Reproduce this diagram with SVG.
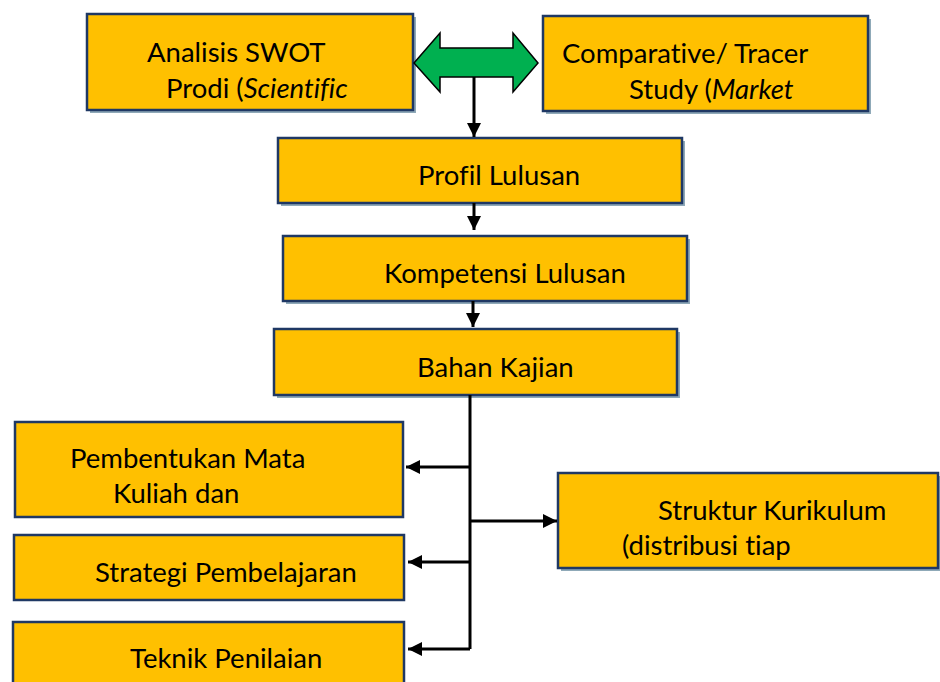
<svg xmlns="http://www.w3.org/2000/svg" width="940" height="682" viewBox="0 0 940 682">
<style>
.sh{fill:#8fa9b8}
.bx{fill:#FFC000;stroke:#1F3864;stroke-width:2.5}
.t{font-family:Lato,"Open Sans","Liberation Sans",sans-serif;font-size:27.5px;fill:#000;font-variant-ligatures:none}
.c{fill:none;stroke:#000;stroke-width:3}
</style>
<defs>
<marker id="ah" markerUnits="userSpaceOnUse" markerWidth="14" markerHeight="14" viewBox="0 0 14 14" refX="14" refY="7" orient="auto">
<path d="M0,0 L14,7 L0,14 Z" fill="#000"/>
</marker>
</defs>
<rect width="940" height="682" fill="#fff"/>

<g id="swot">
<rect class="sh" x="90" y="17" width="326" height="96"/>
<rect class="bx" x="87" y="14" width="326" height="96"/>
<text class="t" x="147" y="62">Analisis SWOT</text>
<text class="t" x="166" y="98">Prodi (<tspan font-style="italic">Scientific</tspan></text>
</g>

<g id="tracer">
<rect class="sh" x="546" y="19" width="325" height="95"/>
<rect class="bx" x="543" y="16" width="325" height="95"/>
<text class="t" x="562" y="63">Comparative/ Tracer</text>
<text class="t" x="629" y="99">Study (<tspan font-style="italic">Market</tspan></text>
</g>

<g id="profil">
<rect class="sh" x="281" y="141" width="404" height="65"/>
<rect class="bx" x="278" y="138" width="404" height="65"/>
<text class="t" x="418" y="185">Profil Lulusan</text>
</g>

<g id="kompetensi">
<rect class="sh" x="286" y="239" width="404" height="65" fill="#FFC000"/>
<rect class="bx" x="283" y="236" width="404" height="65"/>
<text class="t" x="384" y="283">Kompetensi Lulusan</text>
</g>

<g id="bahan">
<rect class="sh" x="277" y="332" width="403" height="66"/>
<rect class="bx" x="274" y="329" width="403" height="66"/>
<text class="t" x="417" y="377">Bahan Kajian</text>
</g>

<g id="pembentukan">
<rect class="bx" x="15" y="422" width="388" height="95"/>
<text class="t" x="70" y="468">Pembentukan Mata</text>
<text class="t" x="113" y="503">Kuliah dan</text>
</g>

<g id="strategi">
<rect class="bx" x="14" y="535" width="390" height="65"/>
<text class="t" x="95" y="582">Strategi Pembelajaran</text>
</g>

<g id="teknik">
<rect class="bx" x="13" y="622" width="391" height="70"/>
<text class="t" x="130" y="668">Teknik Penilaian</text>
</g>

<g id="struktur">
<rect class="sh" x="561" y="476" width="380" height="95"/>
<rect class="bx" x="558" y="473" width="380" height="95"/>
<text class="t" x="658" y="520">Struktur Kurikulum</text>
<text class="t" x="622" y="555">(distribusi tiap</text>
</g>

<g id="connectors">
<polygon points="414,63 440,33 440,48 513,48 513,33 538,63 513,92 513,77 440,77 440,92" fill="#00B050" stroke="#000" stroke-width="1.5" stroke-linejoin="miter"/>
<line class="c" x1="474" y1="77" x2="474" y2="137" marker-end="url(#ah)"/>
<line class="c" x1="474" y1="203" x2="474" y2="230" marker-end="url(#ah)"/>
<line class="c" x1="473" y1="301" x2="473" y2="327" marker-end="url(#ah)"/>
<polyline class="c" points="470,395 470,649"/>
<line class="c" x1="470" y1="467" x2="406" y2="467" marker-end="url(#ah)"/>
<line class="c" x1="470" y1="562" x2="408" y2="562" marker-end="url(#ah)"/>
<line class="c" x1="470" y1="649" x2="408" y2="649" marker-end="url(#ah)"/>
<line class="c" x1="470" y1="521" x2="557" y2="521" marker-end="url(#ah)"/>
</g>
</svg>
